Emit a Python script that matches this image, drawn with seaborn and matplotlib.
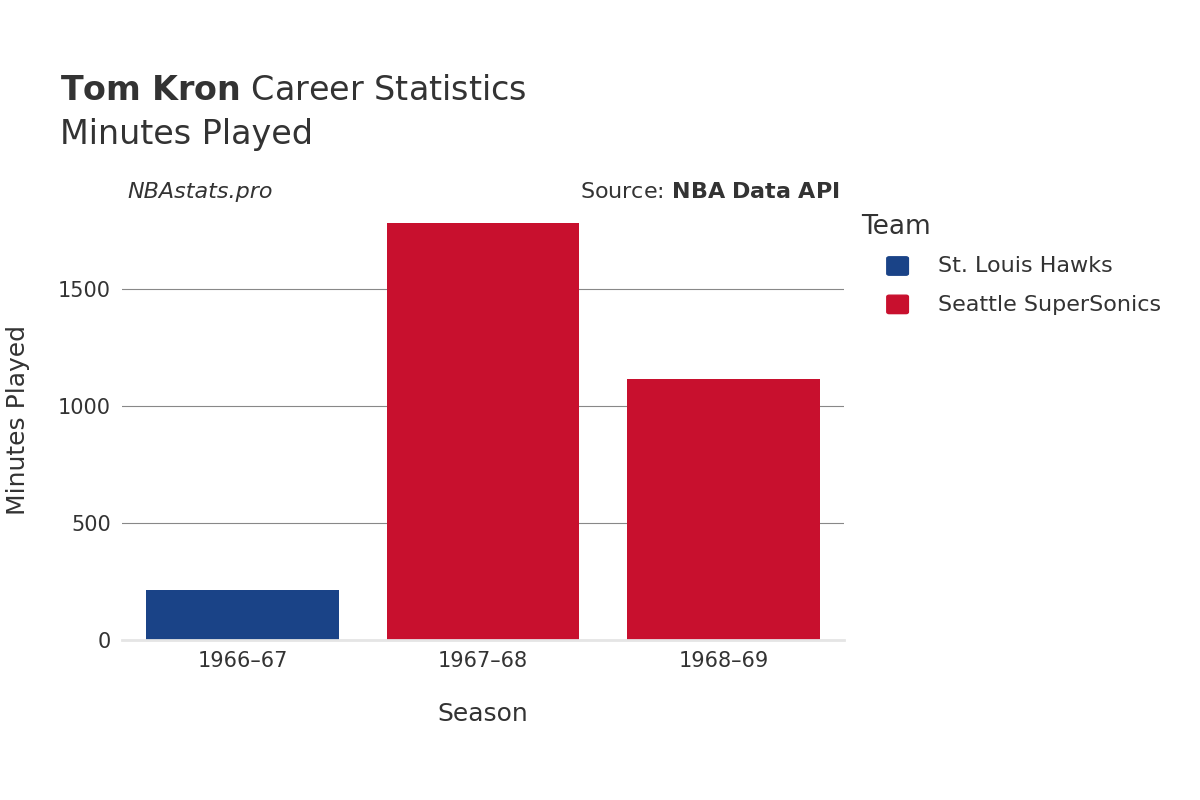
import matplotlib
matplotlib.use("Agg")
import matplotlib.pyplot as plt
import seaborn as sns
import pandas as pd

seasons = ["1966\u201367", "1967\u201368", "1968\u201369"]
teams = ["St. Louis Hawks", "Seattle SuperSonics", "Seattle SuperSonics"]
minutes = [214, 1782, 1115]
team_order = ["St. Louis Hawks", "Seattle SuperSonics"]
colors = ["#1a4387", "#c8102e"]

df = pd.DataFrame({"Season": seasons, "Team": teams, "Minutes": minutes})

fig = plt.figure(figsize=(12, 8), dpi=100)
ax = fig.add_axes([0.1017, 0.2, 0.6017, 0.55])
sns.barplot(data=df, x="Season", y="Minutes", hue="Team", hue_order=team_order,
            palette=colors, dodge=False, width=0.8, ax=ax, legend=False, saturation=1)
ax.set_ylim(0, 1880)
ax.set_xlim(-0.5, 2.5)
ax.set_yticks([0, 500, 1000, 1500])
ax.yaxis.grid(True, color="#888888", linewidth=0.8)
ax.set_axisbelow(True)
for s in ["top", "right", "left"]:
    ax.spines[s].set_visible(False)
ax.spines["bottom"].set_color("#e5e5e5")
ax.spines["bottom"].set_linewidth(2)
ax.tick_params(length=0, labelsize=15, colors="#333333", pad=8)
ax.set_xlabel("Season", fontsize=18, color="#333333", labelpad=22)
ax.set_ylabel("Minutes Played", fontsize=18, color="#333333", labelpad=20)

fig.text(0.05, 0.875, r"$\bf{Tom\ Kron}$ Career Statistics", fontsize=24, color="#333333")
fig.text(0.05, 0.82, "Minutes Played", fontsize=24, color="#333333")
fig.text(0.106, 0.752, "NBAstats.pro", fontsize=16, style="italic", color="#333333")
fig.text(0.7, 0.752, r"Source: $\bf{NBA\ Data\ API}$", fontsize=16, color="#333333", ha="right")

fig.text(0.718, 0.708, "Team", fontsize=19, color="#333333")
for i, (t, c) in enumerate(zip(team_order, colors)):
    y = 0.667 - i * 0.048
    fig.patches.append(matplotlib.patches.FancyBboxPatch((0.741, y - 0.009), 0.014, 0.019,
                       boxstyle="round,pad=0.002", transform=fig.transFigure, color=c))
    fig.text(0.782, y, t, fontsize=16, color="#333333", va="center")

fig.savefig("out.png", dpi=100)
